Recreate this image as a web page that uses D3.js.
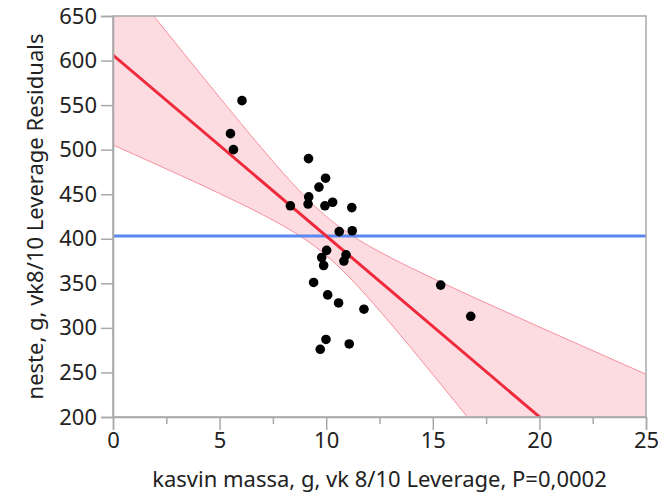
<!DOCTYPE html>
<html><head><meta charset="utf-8">
<script src="https://cdn.jsdelivr.net/npm/d3@7"></script>
<style>body{margin:0;background:#fff}svg{display:block}text{font-family:"Noto Sans","Open Sans",sans-serif;fill:#222}</style>
</head><body><svg id="c" width="664" height="494"></svg>
<script>
// Data points (leverage plot)
const pointX = [6.05,5.51,5.65,9.17,9.97,9.66,9.18,9.15,8.32,9.94,10.30,11.20,10.61,11.22,10.02,9.79,9.88,10.93,10.83,9.41,10.07,10.58,11.77,9.99,9.72,11.08,15.37,16.78];
const pointY = [555,518,500,490,468,458,447,439,437,437,441,435,408,409,387,379,370,382,375,351,337,328,321,287,276,282,348,313];
// Fit line endpoints
const fitX = [0, 25];
const fitY = [606.2, 98.7];
// Mean (horizontal) line
const meanY = 403;
// Confidence band
const bandX = [0,1,2,3,4,5,6,7,8,9,10,11,12,13,14,15,16,17,18,19,20,21,22,23,24,25];
const bandUpper = [707.1,677.2,647.4,617.6,588.0,558.6,529.5,500.9,473.3,447.5,425.1,406.9,392.1,379.1,367.1,355.6,344.4,333.4,322.6,311.8,301.1,290.4,279.8,269.2,258.6,248.0];
const bandLower = [505.3,494.6,483.8,473.0,462.0,450.8,439.3,427.3,414.3,399.5,381.3,358.9,333.1,305.5,276.9,247.8,218.4,188.8,159.0,129.2,99.3,69.4,39.4,9.4,-20.6,-50.6];
// Axes
const xTicks = [0,5,10,15,20,25];
const xMinorTicks = [2.5,7.5,12.5,17.5,22.5];
const yTicks = [200,250,300,350,400,450,500,550,600,650];
const xLabel = "kasvin massa, g, vk 8/10 Leverage, P=0,0002";
const yLabel = "neste, g, vk8/10 Leverage Residuals";

const L = 113, R = 646, T = 16, B = 417;
const svg = d3.select("#c");
const x = d3.scaleLinear().domain([0,25]).range([L,R]);
const y = d3.scaleLinear().domain([200,650]).range([B,T]);

svg.append("defs").append("clipPath").attr("id","clip")
  .append("rect").attr("x",L).attr("y",T).attr("width",R-L).attr("height",B-T);

const g = svg.append("g").attr("clip-path","url(#clip)");
const band = bandX.map((d,i)=>({x:d,u:bandUpper[i],l:bandLower[i]}));
g.append("path").datum(band)
  .attr("d", d3.area().x(d=>x(d.x)).y0(d=>y(d.l)).y1(d=>y(d.u)).curve(d3.curveMonotoneX))
  .attr("fill","#fcdce1");
const edge = (k)=>d3.line().x(d=>x(d.x)).y(d=>y(d[k])).curve(d3.curveMonotoneX);
g.append("path").datum(band).attr("d",edge("u")).attr("fill","none").attr("stroke","#f7909c").attr("stroke-width",1);
g.append("path").datum(band).attr("d",edge("l")).attr("fill","none").attr("stroke","#f7909c").attr("stroke-width",1);

g.append("line").attr("x1",x(0)).attr("x2",x(25)).attr("y1",y(meanY)).attr("y2",y(meanY))
  .attr("stroke","#5a88f0").attr("stroke-width",3);

g.append("line").attr("x1",x(fitX[0])).attr("x2",x(fitX[1])).attr("y1",y(fitY[0])).attr("y2",y(fitY[1]))
  .attr("stroke","#ee2a3c").attr("stroke-width",3);

g.selectAll("circle.p").data(pointX.map((d,i)=>[d,pointY[i]])).enter().append("circle")
  .attr("cx",d=>x(d[0])).attr("cy",d=>y(d[1])).attr("r",4.8).attr("fill","#000");

// frame
svg.append("rect").attr("x",L).attr("y",T).attr("width",R-L).attr("height",B-T)
  .attr("fill","none").attr("stroke","#a8a8a8").attr("stroke-width",1.5);

// axes
svg.append("g").attr("transform",`translate(0,${B})`)
  .call(d3.axisBottom(x).tickValues(xTicks).tickSize(13).tickPadding(2).tickFormat(d3.format("d")));
svg.append("g").attr("transform",`translate(0,${B})`)
  .call(d3.axisBottom(x).tickValues(xMinorTicks).tickSize(7).tickFormat(""))
  .call(s=>s.select(".domain").remove());
svg.append("g").attr("transform",`translate(${L},0)`)
  .call(d3.axisLeft(y).tickValues(yTicks).tickSize(12).tickPadding(4).tickFormat(d3.format("d")));
svg.selectAll(".domain").attr("stroke","#a8a8a8").attr("stroke-width",1.5);
svg.selectAll(".tick line").attr("stroke","#a8a8a8").attr("stroke-width",1.5);
svg.selectAll(".tick text").attr("font-size",22).attr("font-family","'Noto Sans','Open Sans',sans-serif").attr("fill","#222");

svg.append("text").attr("x",(L+R)/2).attr("y",487).attr("text-anchor","middle")
  .attr("font-size",22).text(xLabel);
svg.append("text").attr("transform",`translate(43,${(T+B)/2}) rotate(-90)`).attr("text-anchor","middle")
  .attr("font-size",22).text(yLabel);
</script></body></html>
